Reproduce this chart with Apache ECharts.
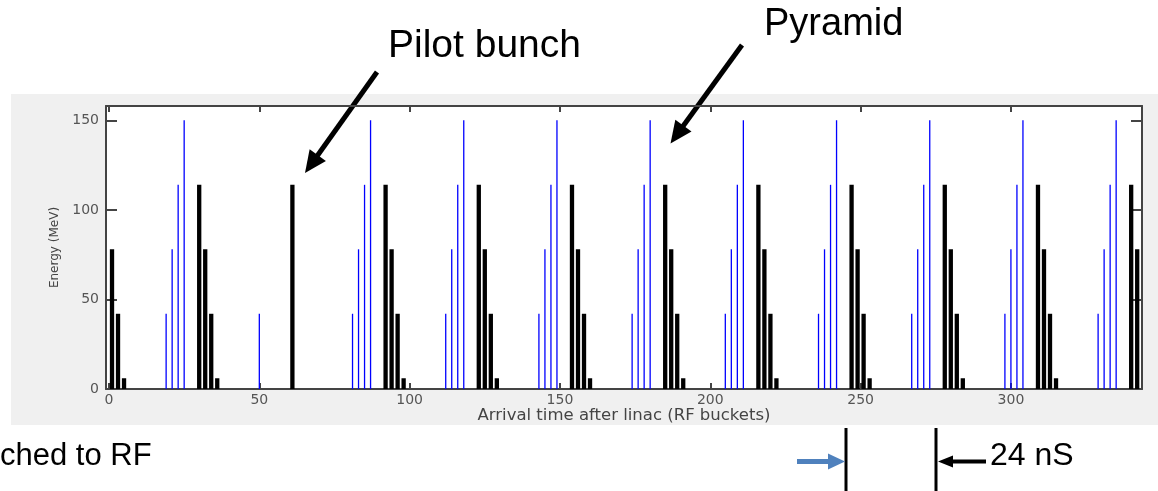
<!DOCTYPE html>
<html lang="en">
<head>
    <meta charset="UTF-8">
    <title>Bunch arrival energies</title>
    <script src="https://cdn.jsdelivr.net/npm/echarts@6.0.0/dist/echarts.min.js"></script>
    <style>
        html, body {
            margin: 0;
            padding: 0;
            background: #fff;
        }
        #chart {
            width: 1158px;
            height: 491px;
        }
    </style>
</head>
<body>
<div id="chart"></div>
<script>
    // arrival bucket / energy of each bunch
    var blackX = [1, 3, 5, 30, 32, 34, 36, 61, 92, 94, 96, 98, 123, 125, 127, 129, 154, 156, 158, 160,
        185, 187, 189, 191, 216, 218, 220, 222, 247, 249, 251, 253, 278, 280, 282, 284,
        309, 311, 313, 315, 340, 342];
    var blackY = [78, 42, 6, 114, 78, 42, 6, 114, 114, 78, 42, 6, 114, 78, 42, 6, 114, 78, 42, 6,
        114, 78, 42, 6, 114, 78, 42, 6, 114, 78, 42, 6, 114, 78, 42, 6,
        114, 78, 42, 6, 114, 78];
    var blueX = [19, 21, 23, 25, 50, 81, 83, 85, 87, 112, 114, 116, 118, 143, 145, 147, 149,
        174, 176, 178, 180, 205, 207, 209, 211, 236, 238, 240, 242, 267, 269, 271, 273,
        298, 300, 302, 304, 329, 331, 333, 335];
    var blueY = [42, 78, 114, 150, 42, 42, 78, 114, 150, 42, 78, 114, 150, 42, 78, 114, 150,
        42, 78, 114, 150, 42, 78, 114, 150, 42, 78, 114, 150, 42, 78, 114, 150,
        42, 78, 114, 150, 42, 78, 114, 150];
    var xTicks = [0, 50, 100, 150, 200, 250, 300];
    var yTicks = [0, 50, 100, 150];

    function pairs(xs, ys) {
        return xs.map(function (x, i) {
            return [x, ys[i]];
        });
    }

    // line with a filled head at (x2, y2)
    function arrow(x1, y1, x2, y2, color, w, headLen, headHalf) {
        var dx = x2 - x1, dy = y2 - y1;
        var len = Math.sqrt(dx * dx + dy * dy);
        var ux = dx / len, uy = dy / len;
        var bx = x2 - ux * headLen, by = y2 - uy * headLen;
        return [
            {
                type: 'line',
                shape: {x1: x1, y1: y1, x2: bx + ux * 2, y2: by + uy * 2},
                style: {stroke: color, lineWidth: w}
            },
            {
                type: 'polygon',
                shape: {points: [[x2, y2], [bx - uy * headHalf, by + ux * headHalf], [bx + uy * headHalf, by - ux * headHalf]]},
                style: {fill: color}
            }
        ];
    }

    function label(text, x, y, size) {
        return {
            type: 'text',
            x: x,
            y: y,
            style: {
                text: text,
                font: size + 'px "Liberation Sans", Arial, sans-serif',
                fill: '#000',
                textAlign: 'left',
                textVerticalAlign: 'middle'
            }
        };
    }

    var frame = '#444';
    var tickFont = {color: '#555', fontSize: 14, fontFamily: 'DejaVu Sans'};

    var graphics = [
        {
            type: 'rect',
            z: -10,
            shape: {x: 11, y: 94, width: 1147, height: 331},
            style: {fill: '#f0f0f0'}
        },
        label('Pilot bunch', 388, 46.5, 39),
        label('Pyramid', 764, 25, 38),
        label('ched to RF', 0, 456.5, 31),
        label('24 nS', 990, 456.5, 32),
        {type: 'line', shape: {x1: 846, y1: 428, x2: 846, y2: 491}, style: {stroke: '#000', lineWidth: 3}},
        {type: 'line', shape: {x1: 936, y1: 428, x2: 936, y2: 491}, style: {stroke: '#000', lineWidth: 3}}
    ]
        .concat(arrow(377, 72, 305, 173, '#000', 5, 22, 10))
        .concat(arrow(742, 45, 670.5, 143.5, '#000', 5, 22, 10))
        .concat(arrow(797, 461.5, 845, 461.5, '#4f81bd', 5, 17, 8))
        .concat(arrow(986, 461.5, 938, 461.5, '#000', 4, 15, 6));

    function xAxisOf(pos, withLabels) {
        return {
            type: 'value',
            position: pos,
            min: -1,
            max: 343.6,
            name: withLabels ? 'Arrival time after linac (RF buckets)' : '',
            nameLocation: 'middle',
            nameGap: 18,
            nameMoveOverlap: false,
            nameTextStyle: {color: '#444', fontSize: 16.5, fontFamily: 'DejaVu Sans'},
            axisLine: {show: true, onZero: false, lineStyle: {color: frame, width: 2}},
            axisTick: {show: true, inside: true, length: 6, customValues: xTicks, lineStyle: {color: frame, width: 2}},
            axisLabel: Object.assign({show: withLabels, margin: 4, customValues: xTicks}, tickFont),
            splitLine: {show: false}
        };
    }

    function yAxisOf(pos, withLabels) {
        return {
            type: 'value',
            position: pos,
            min: 0,
            max: 158,
            name: withLabels ? 'Energy (MeV)' : '',
            nameLocation: 'middle',
            nameGap: 45,
            nameMoveOverlap: false,
            nameTextStyle: {color: '#444', fontSize: 12, fontFamily: 'DejaVu Sans'},
            axisLine: {show: true, onZero: false, lineStyle: {color: frame, width: 2}},
            axisTick: {show: true, inside: true, length: 11, customValues: yTicks, lineStyle: {color: frame, width: 2}},
            axisLabel: Object.assign({show: withLabels, margin: 7, customValues: yTicks}, tickFont),
            splitLine: {show: false}
        };
    }

    var option = {
        animation: false,
        backgroundColor: 'transparent',
        grid: {
            left: 106,
            right: 16,
            top: 106,
            bottom: 102,
            show: true,
            backgroundColor: '#fff',
            borderWidth: 0
        },
        xAxis: [xAxisOf('bottom', true), xAxisOf('top', false)],
        yAxis: [yAxisOf('left', true), yAxisOf('right', false)],
        series: [
            {
                name: 'black',
                type: 'bar',
                xAxisIndex: 0,
                yAxisIndex: 0,
                barWidth: 4.3,
                silent: true,
                itemStyle: {color: '#000'},
                data: pairs(blackX, blackY)
            },
            {
                name: 'blue',
                type: 'bar',
                xAxisIndex: 1,
                yAxisIndex: 0,
                barWidth: 1.3,
                silent: true,
                itemStyle: {color: '#0000ff'},
                data: pairs(blueX, blueY)
            }
        ],
        graphic: graphics
    };

    var myChart = echarts.init(document.getElementById('chart'));
    myChart.setOption(option);
</script>
</body>
</html>
